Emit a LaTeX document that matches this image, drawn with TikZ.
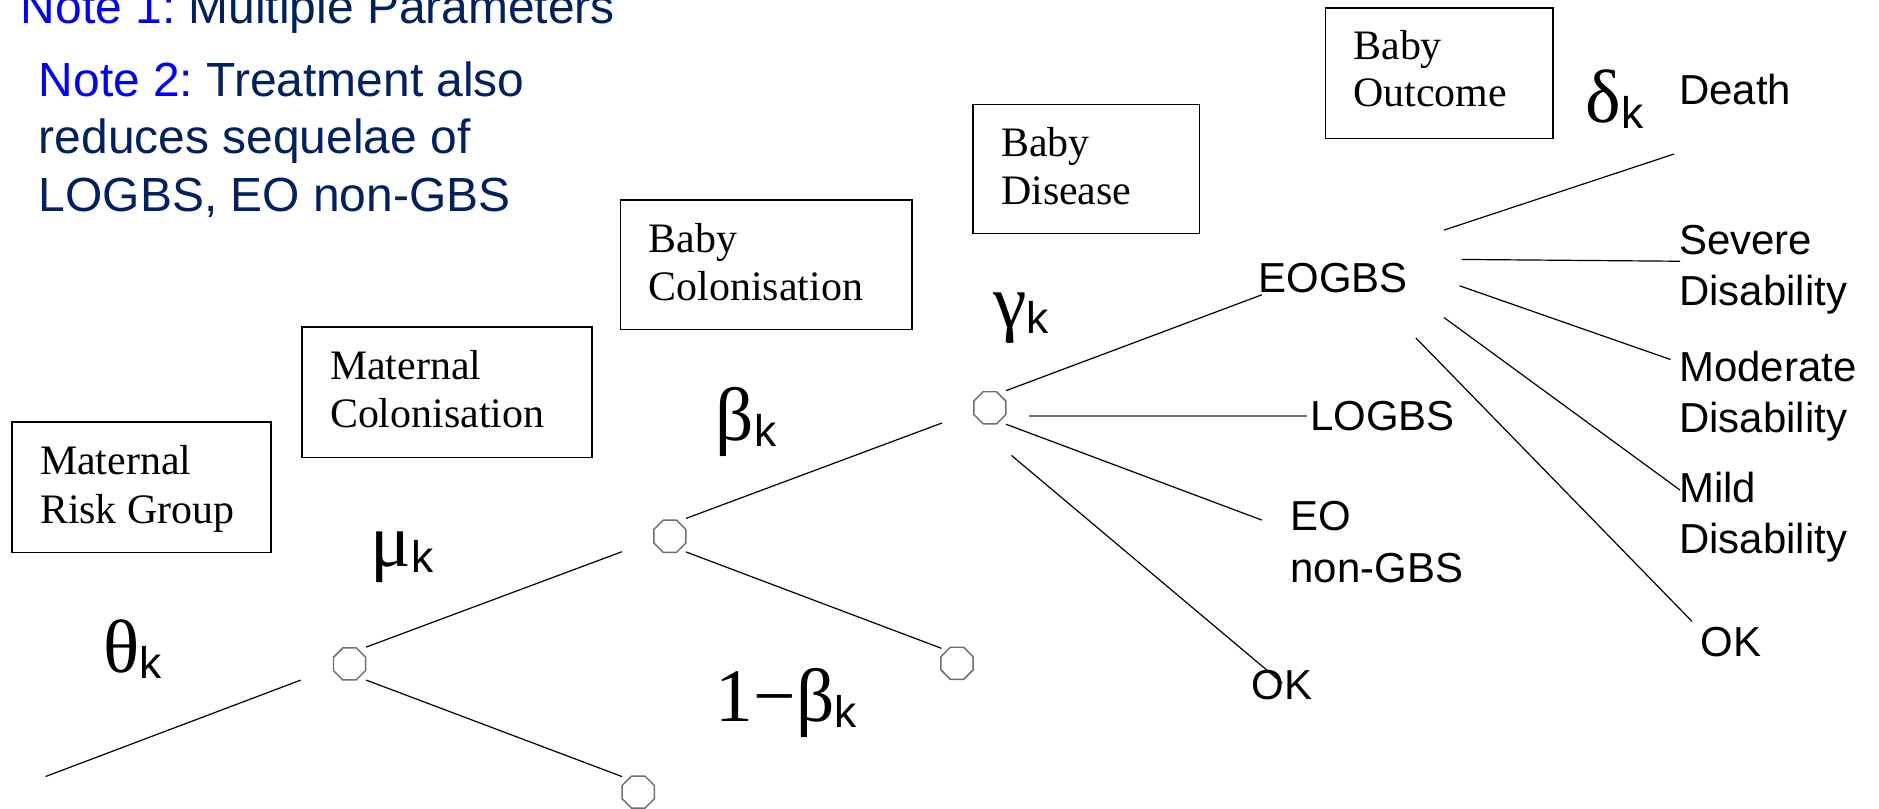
\documentclass[tikz,border=0pt]{standalone}
\usepackage{fontspec}
\setmainfont{Liberation Serif}
\setsansfont{Liberation Sans}
\usetikzlibrary{shapes.geometric}
\definecolor{navy}{RGB}{0,32,96}
\definecolor{noteblue}{RGB}{0,0,255}
\definecolor{octgrey}{RGB}{110,110,110}
\newcommand{\gsub}[1]{{\fontsize{31.5}{36}\selectfont #1}\lower2.5pt\hbox{\sffamily\fontsize{18.5}{21}\selectfont k}}
\frenchspacing
\begin{document}
\begin{tikzpicture}[x=0.5pt,y=-0.5pt,
  box/.style={draw=black,line width=0.6pt,anchor=north west,inner sep=0,outer sep=0},
  boxtext/.style={anchor=base west,inner sep=0,font=\fontsize{17.5}{21}\selectfont},
  lab/.style={anchor=base west,inner sep=0,font=\sffamily\fontsize{17.5}{21}\selectfont},
  notetext/.style={anchor=base west,inner sep=0,font=\sffamily\fontsize{20}{24}\selectfont,text=navy},
  oct/.style={draw=octgrey,line width=0.6pt,regular polygon,regular polygon sides=8,minimum size=14.5pt,inner sep=0},
  br/.style={line width=0.5pt,black},
  grk/.style={anchor=base west,inner sep=0}
]
\path[use as bounding box] (0,0) rectangle (1568,675);
\clip (0,0) rectangle (1568,675);

% notes
\node[notetext] (n1) at (17,19.5) {\textcolor{noteblue}{Note 1:} Multiple Parameters};
\node[notetext] (n2a) at (32,80.7) {\textcolor{noteblue}{Note 2:} Treatment also};
\node[notetext] (n2b) at (32,128.5) {reduces sequelae of};
\node[notetext] (n2c) at (32,176.6) {LOGBS, EO non-GBS};

% boxes
\node[box,minimum width=108pt,minimum height=54.5pt] (b1) at (10,352) {};
\node[boxtext] (b1a) at (33,396) {Maternal};
\node[boxtext] (b1b) at (33,437) {Risk Group};
\node[box,minimum width=121pt,minimum height=54.5pt] (b2) at (252,273) {};
\node[boxtext] (b2a) at (275,317) {Maternal};
\node[boxtext] (b2b) at (275,357) {Colonisation};
\node[box,minimum width=121.5pt,minimum height=54pt] (b3) at (518,167) {};
\node[boxtext] (b3a) at (541,211) {Baby};
\node[boxtext] (b3b) at (541,251) {Colonisation};
\node[box,minimum width=94.5pt,minimum height=54pt] (b4) at (812,87) {};
\node[boxtext] (b4a) at (835,131) {Baby};
\node[boxtext] (b4b) at (835,171) {Disease};
\node[box,minimum width=95pt,minimum height=54.5pt] (b5) at (1106,6.5) {};
\node[boxtext] (b5a) at (1129,50) {Baby};
\node[boxtext] (b5b) at (1129,89) {Outcome};

% greek labels
\node[grk] (gth) at (86,561) {\gsub{θ}};
\node[grk] (gmu) at (309,473) {\gsub{μ}};
\node[grk] (gbe) at (597,368) {\gsub{β}};
\node[grk] (gnb) at (597,602) {\gsub{1−β}};
\node[grk] (gga) at (828.6,273) {\gsub{γ}};
\node[grk] (gde) at (1323,102.5) {\gsub{δ}};

% chance nodes
\node[oct] (o1) at (291.7,554) {};
\node[oct] (o2) at (532.6,661) {};
\node[oct] (o3) at (559,447.5) {};
\node[oct] (o4) at (798.6,553.5) {};
\node[oct] (o5) at (826,340.3) {};

% outcome labels
\node[lab] (eogbs) at (1050,244) {EOGBS};
\node[lab] (logbs) at (1093,359.5) {LOGBS};
\node[lab] (eo1) at (1076.5,443) {EO};
\node[lab] (eo2) at (1076.5,486) {non-GBS};
\node[lab] (okm) at (1044,584) {OK};
\node[lab] (death) at (1401,87.6) {Death};
\node[lab] (sev1) at (1401,212) {Severe};
\node[lab] (sev2) at (1401,255) {Disability};
\node[lab] (mod1) at (1401,318.5) {Moderate};
\node[lab] (mod2) at (1401,360.6) {Disability};
\node[lab] (mil1) at (1401,419) {Mild};
\node[lab] (mil2) at (1401,462) {Disability};
\node[lab] (okr) at (1419,547.7) {OK};

% branch end points
\coordinate (s0) at (38,648);   \coordinate (e0) at (251,567.5);
\coordinate (s1) at (305.5,540); \coordinate (e1) at (519,460.4);
\coordinate (s2) at (305.5,567.5); \coordinate (e2) at (519,648);
\coordinate (s3) at (572.5,432.6); \coordinate (e3) at (786,353);
\coordinate (s4) at (572.5,460.6); \coordinate (e4) at (785.6,541);
\coordinate (s5) at (839.5,326); \coordinate (e5) at (1053,246);
\coordinate (s6) at (859,347);   \coordinate (e6) at (1091,347);
\coordinate (s7) at (839.5,354); \coordinate (e7) at (1053,434);
\coordinate (s8) at (844,380);   \coordinate (e8) at (1070,570);
\coordinate (f1s) at (1205,192);   \coordinate (f1e) at (1397,128.5);
\coordinate (f2s) at (1219.6,216.5); \coordinate (f2e) at (1402,218);
\coordinate (f3s) at (1218,238.5); \coordinate (f3e) at (1394,300);
\coordinate (f4s) at (1205,265);   \coordinate (f4e) at (1402,409);
\coordinate (f5s) at (1181.5,282); \coordinate (f5e) at (1412,518.6);

\draw[br] (s0) -- (e0);
\draw[br] (s1) -- (e1);
\draw[br] (s2) -- (e2);
\draw[br] (s3) -- (e3);
\draw[br] (s4) -- (e4);
\draw[br] (s5) -- (e5);
\draw[br,draw=octgrey,line width=0.7pt] (s6) -- (e6);
\draw[br] (s7) -- (e7);
\draw[br] (s8) -- (e8);
\draw[br] (f1s) -- (f1e);
\draw[br] (f2s) -- (f2e);
\draw[br] (f3s) -- (f3e);
\draw[br] (f4s) -- (f4e);
\draw[br] (f5s) -- (f5e);
\end{tikzpicture}
\end{document}
